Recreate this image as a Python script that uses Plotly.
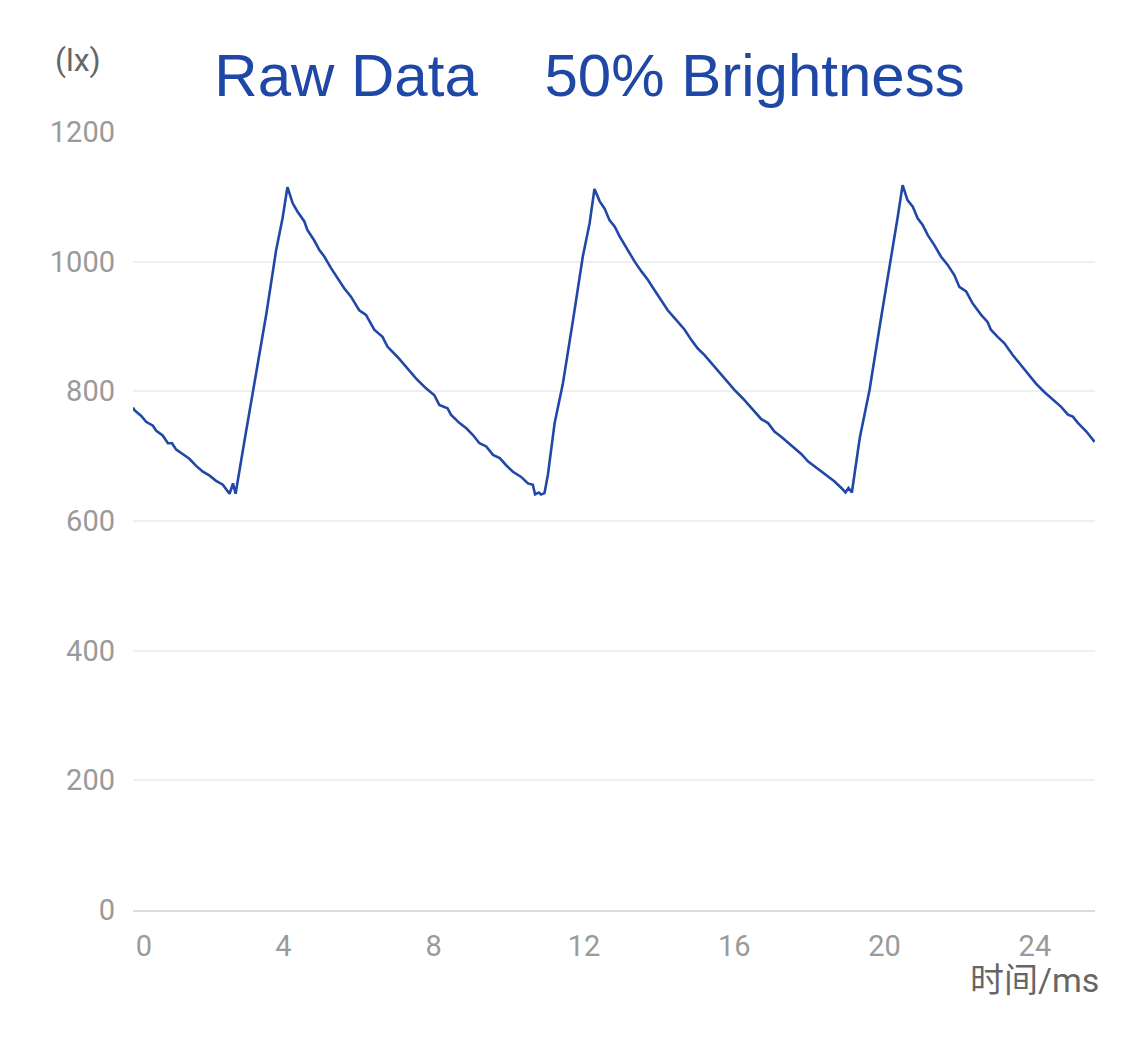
import plotly.graph_objects as go

# time (ms) and illuminance (lx)
time_ms = [0.00, 0.04, 0.22, 0.35, 0.53, 0.62, 0.79, 0.93, 1.04, 1.15, 1.33, 1.50,
           1.68, 1.86, 2.04, 2.21, 2.39, 2.52, 2.57, 2.66, 2.73,
           2.97, 3.19, 3.55, 3.81, 3.98, 4.11,
           4.25, 4.38, 4.56, 4.64, 4.82, 4.96, 5.09, 5.27, 5.44, 5.62, 5.80, 6.02,
           6.20, 6.42, 6.64, 6.77, 7.04, 7.26, 7.53, 7.79, 8.02, 8.15, 8.37, 8.46,
           8.51, 8.69, 8.87, 9.04, 9.22, 9.40, 9.58, 9.76, 9.93, 10.11, 10.33,
           10.51, 10.64, 10.70, 10.80, 10.86, 10.95,
           11.04, 11.22, 11.44, 11.71, 11.97, 12.15, 12.28,
           12.42, 12.55, 12.68, 12.82, 12.95, 13.08, 13.22, 13.35, 13.53, 13.70,
           13.88, 14.06, 14.23, 14.46, 14.68, 14.86, 15.03, 15.21, 15.43, 15.66,
           15.83, 16.01, 16.23, 16.50, 16.72,
           16.90, 17.07, 17.25, 17.43, 17.61, 17.79, 17.96, 18.14, 18.32, 18.49,
           18.67, 18.85, 18.96, 19.04, 19.13,
           19.34, 19.60, 19.87, 20.14, 20.35, 20.48,
           20.61, 20.75, 20.88, 21.01, 21.15, 21.32, 21.50, 21.68, 21.86, 21.99,
           22.17, 22.34, 22.57, 22.74, 22.83, 23.01, 23.19, 23.41, 23.63, 23.86,
           24.03, 24.25, 24.48, 24.70, 24.88, 25.01, 25.15, 25.37, 25.59]
lux = [775, 771, 762, 753, 747, 739, 732, 720, 720, 710, 703, 696,
       685, 676, 670, 662, 656, 645, 642, 658, 642,
       725, 797, 920, 1018, 1067, 1115,
       1090, 1077, 1062, 1049, 1033, 1018, 1008, 990, 974, 959, 946, 925,
       918, 895, 884, 869, 853, 838, 820, 805, 794, 779, 774, 764,
       761, 751, 743, 733, 720, 715, 702, 697, 686, 676, 668,
       658, 656, 641, 644, 641, 643,
       671, 751, 812, 910, 1008, 1059, 1112,
       1093, 1082, 1064, 1054, 1039, 1026, 1013, 1000, 985, 972,
       956, 941, 925, 910, 895, 879, 866, 856, 841, 825,
       815, 802, 789, 771, 757,
       751, 738, 730, 721, 711, 703, 692, 684, 676, 668,
       661, 651, 644, 651, 644,
       728, 802, 900, 992, 1069, 1118,
       1095, 1085, 1067, 1057, 1041, 1026, 1008, 995, 979, 961,
       954, 936, 918, 907, 895, 884, 874, 856, 841, 825,
       812, 799, 787, 776, 764, 761, 751, 738, 722]

y_ticks = [0, 200, 400, 600, 800, 1000, 1200]
x_ticks = [0, 4, 8, 12, 16, 20, 24]
x_tick_text = ["\u00a0\u00a0\u00a00", "4", "8", "12", "16", "20", "24"]

title_text = "Raw Data\u00a0\u00a0\u00a0 50% Brightness"
y_unit = "(lx)"
x_unit = "时间/ms"

LINE = "#2148a6"
FONT = "Roboto, Noto Sans CJK SC, sans-serif"

fig = go.Figure()
fig.add_trace(go.Scatter(x=time_ms, y=lux, mode="lines",
                         line=dict(color=LINE, width=2.6), hoverinfo="skip"))

fig.update_layout(
    width=1125, height=1040,
    margin=dict(l=133, r=30, t=132, b=130),
    paper_bgcolor="white", plot_bgcolor="white",
    showlegend=False,
    title=dict(text=title_text, x=0.524, xanchor="center", y=0.928, yanchor="middle",
               font=dict(family="Liberation Sans, Arial, sans-serif", size=60, color="#1f47a6")),
    xaxis=dict(range=[0, 25.6], tickvals=x_ticks, ticktext=x_tick_text,
               showgrid=False, zeroline=False, showline=True, linecolor="#dcdcdc", linewidth=2,
               ticks="", ticklabelstandoff=9,
               tickfont=dict(family=FONT, size=29, color="#9a9a9a"), fixedrange=True),
    yaxis=dict(range=[0, 1200], tickvals=y_ticks,
               showgrid=True, gridcolor="#efefef", gridwidth=2,
               zeroline=False, showline=False, ticks="", ticklabelstandoff=17,
               tickfont=dict(family=FONT, size=29, color="#9a9a9a"), fixedrange=True),
)

fig.add_annotation(text=y_unit, xref="paper", yref="paper", x=-0.057, y=1.092,
                   xanchor="center", yanchor="middle", showarrow=False,
                   font=dict(family=FONT, size=32, color="#666666"))
fig.add_annotation(text=x_unit, xref="paper", yref="paper", x=1.006, y=-0.09,
                   xanchor="right", yanchor="middle", showarrow=False,
                   font=dict(family=FONT, size=34, color="#666666"))

fig.write_html("out.html")
